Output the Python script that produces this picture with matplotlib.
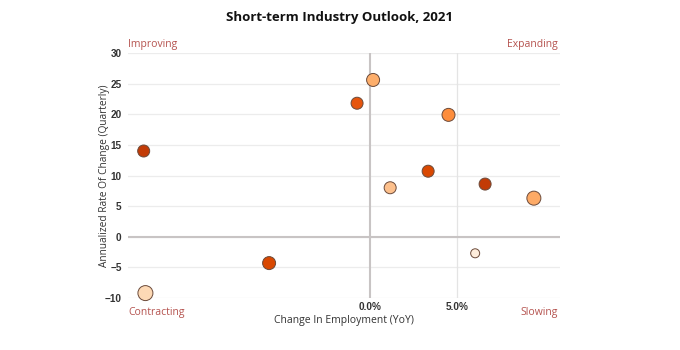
import matplotlib
matplotlib.use("Agg")
import matplotlib.pyplot as plt

plt.rcParams['font.family'] = ['Open Sans', 'DejaVu Sans']

title = "Short-term Industry Outlook, 2021"
x_label = "Change In Employment (YoY)"
y_label = "Annualized Rate Of Change (Quarterly)"
quadrant_labels = ["Improving", "Expanding", "Contracting", "Slowing"]

employment_change = [-13.0, -12.9, -5.8, -0.75, 0.17, 1.15, 3.33, 4.5, 6.03, 6.6, 9.4]
rate_of_change = [14.0, -9.2, -4.3, 21.8, 25.6, 8.0, 10.7, 19.9, -2.7, 8.6, 6.3]
bubble_size = [12, 15, 13, 12, 13, 12, 12, 13, 9, 12, 14]
colors = ["#c23b06", "#fdd9b5", "#d94801", "#e6550d", "#fdae6b", "#fdc08c",
          "#d94801", "#fd8d3c", "#feeddc", "#c23b06", "#fdaa66"]

y_ticks = [-10, -5, 0, 5, 10, 15, 20, 25, 30]
x_ticks = [0, 5]
x_tick_labels = ["0.0%", "5.0%"]

fig = plt.figure(figsize=(6.8, 3.5), dpi=100)
ax = fig.add_axes([128/680, 1-298/350, (560-128)/680, (298-53)/350])

ax.set_xlim(-13.9, 10.9)
ax.set_ylim(-10, 30)

for y in y_ticks:
    ax.axhline(y, color="#ececec", lw=0.9, zorder=0)
ax.axvline(5, color="#e4e4e4", lw=0.9, zorder=0)
ax.axhline(0, color="#c8c4c4", lw=1.5, zorder=1)
ax.axvline(0, color="#c8c4c4", lw=1.5, zorder=1)

sizes = [(d * 0.72) ** 2 for d in bubble_size]
ax.scatter(employment_change, rate_of_change, s=sizes, c=colors,
           edgecolors="#6b4a3a", linewidths=0.7, zorder=3, clip_on=False)

for s in ax.spines.values():
    s.set_visible(False)

ax.set_yticks(y_ticks)
ax.set_yticklabels([f"{v:g}" if v >= 0 else f"\u2212{abs(v):g}" for v in y_ticks],
                   fontsize=7.2, fontweight="bold", color="#333333",
                   family=['Liberation Sans'])
ax.set_xticks(x_ticks)
ax.set_xticklabels(x_tick_labels, fontsize=7.2, fontweight="bold", color="#333333",
                   family=['Liberation Sans'])
ax.tick_params(length=0, pad=3)
ax.tick_params(axis='y', pad=4.5)

ax.set_xlabel(x_label, fontsize=7.5, color="#333333", labelpad=2)
ax.set_ylabel(y_label, fontsize=7.3, color="#333333")
ax.yaxis.set_label_coords((110 - 128) / 432, 0.5)

fig.text(0.5, 1 - 18/350, title, ha="center", va="center", fontsize=9.5,
         fontweight="bold", color="#111111")

qc = "#b5534f"
fig.text(128/680, 1 - 44/350, quadrant_labels[0], ha="left", va="center", fontsize=7.5, color=qc)
fig.text(558/680, 1 - 44/350, quadrant_labels[1], ha="right", va="center", fontsize=7.5, color=qc)
fig.text(128/680, 1 - 312/350, quadrant_labels[2], ha="left", va="center", fontsize=7.5, color=qc)
fig.text(558/680, 1 - 312/350, quadrant_labels[3], ha="right", va="center", fontsize=7.5, color=qc)

fig.savefig("out.png", dpi=100)
